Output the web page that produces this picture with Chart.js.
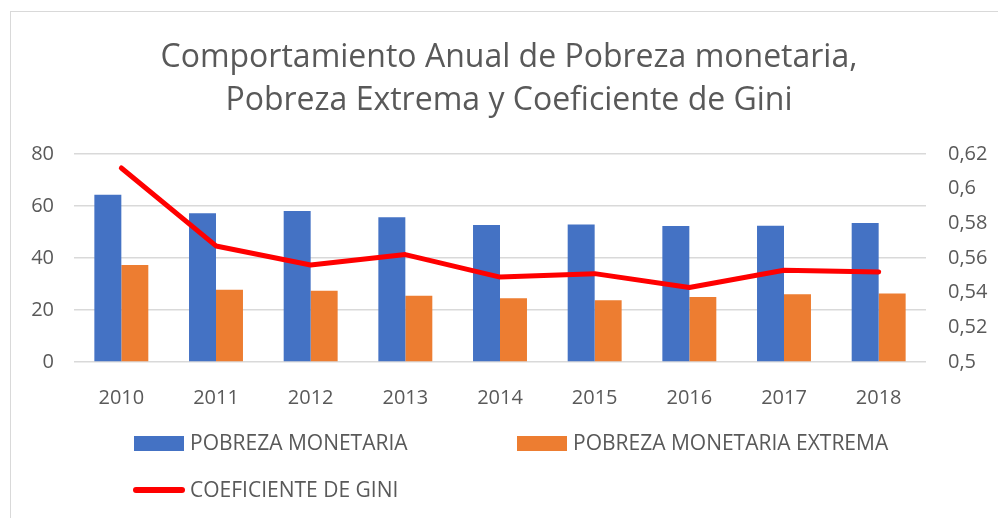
<!DOCTYPE html>
<html><head><meta charset="utf-8">
<script src="https://cdn.jsdelivr.net/npm/chart.js@4"></script>
<style>
html,body{margin:0;padding:0;background:#fff;}
#wrap{position:relative;width:998px;height:518px;overflow:hidden;}
#frame{position:absolute;left:10px;top:11px;width:1000px;height:600px;border-left:1px solid #d9d9d9;border-top:1px solid #d9d9d9;}
canvas{position:absolute;left:0;top:0;}
.lg{position:absolute;font-family:"Open Sans",sans-serif;font-size:21px;color:#595959;white-space:nowrap;line-height:21px;}
.sw{position:absolute;}
</style></head><body>
<div id="wrap"><div id="frame"></div><canvas id="c" width="998" height="518"></canvas>
<div class="sw" style="left:134px;top:436px;width:50px;height:15px;background:#4472C4"></div>
<div class="lg" style="left:190px;top:432px">POBREZA MONETARIA</div>
<div class="sw" style="left:517px;top:436px;width:50px;height:15px;background:#ED7D31"></div>
<div class="lg" style="left:573px;top:432px">POBREZA MONETARIA EXTREMA</div>
<div class="sw" style="left:133px;top:487px;width:52px;height:6px;border-radius:3px;background:#FF0000"></div>
<div class="lg" style="left:190px;top:479px">COEFICIENTE DE GINI</div>
</div>
<script>
const years = ['2010','2011','2012','2013','2014','2015','2016','2017','2018'];
const pobrezaMonetaria = [64.4, 57.2, 58.1, 55.7, 52.7, 52.9, 52.3, 52.4, 53.5];
const pobrezaExtrema = [37.3, 27.8, 27.4, 25.5, 24.5, 23.8, 25.0, 26.1, 26.4];
const gini = [0.612, 0.567, 0.556, 0.562, 0.549, 0.551, 0.543, 0.553, 0.552];
const titleLines = ['Comportamiento Anual de Pobreza monetaria,', 'Pobreza Extrema y Coeficiente de Gini'];

const FONT = '"Open Sans",sans-serif';
const GRAY = '#595959';

new Chart(document.getElementById('c'), {
  data: {
    labels: years,
    datasets: [
      {type:'line', label:'COEFICIENTE DE GINI', data:gini, yAxisID:'y1', borderColor:'#FF0000', backgroundColor:'#FF0000', borderWidth:5, pointRadius:0, tension:0, borderCapStyle:'round', borderJoinStyle:'round', order:0},
      {type:'bar', label:'POBREZA MONETARIA', data:pobrezaMonetaria, yAxisID:'y', backgroundColor:'#4472C4', categoryPercentage:0.57, barPercentage:1, order:1},
      {type:'bar', label:'POBREZA MONETARIA EXTREMA', data:pobrezaExtrema, yAxisID:'y', backgroundColor:'#ED7D31', categoryPercentage:0.57, barPercentage:1, order:1}
    ]
  },
  options: {
    responsive:false, animation:false,
    layout:{padding:{left:20,right:0,top:0,bottom:0}},
    plugins:{
      legend:{display:false},
      tooltip:{enabled:false},
      title:{display:true, text:titleLines, color:GRAY, font:{family:FONT, size:32, weight:'normal', lineHeight:1.33}, padding:{top:37,bottom:32}}
    },
    scales:{
      x:{grid:{display:false}, border:{display:false}, ticks:{color:GRAY, font:{family:FONT,size:20}, padding:16},
         afterFit:(s)=>{s.height=156;}},
      y:{position:'left', min:0, max:80, ticks:{stepSize:20, color:GRAY, font:{family:FONT,size:20}, padding:20},
         grid:{color:'#d9d9d9', lineWidth:1.5, drawTicks:false}, border:{display:false},
         afterFit:(s)=>{s.width=54;}},
      y1:{position:'right', min:0.5, max:0.62, ticks:{stepSize:0.02, color:GRAY, font:{family:FONT,size:20}, padding:22,
           callback:(v)=>parseFloat(Number(v).toFixed(2)).toString().replace('.',',')},
         grid:{display:false, drawTicks:false}, border:{display:false},
         afterFit:(s)=>{s.width=72;}}
    }
  }
});
</script>
</body></html>
